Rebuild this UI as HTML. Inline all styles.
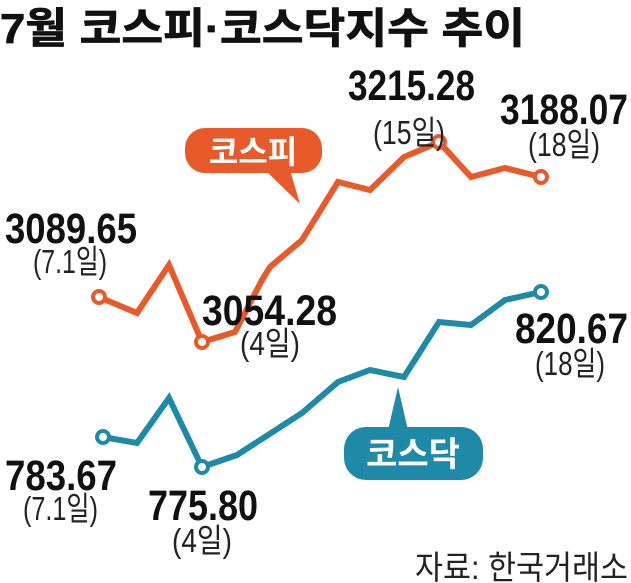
<!DOCTYPE html>
<html><head><meta charset="utf-8"><style>
html,body{margin:0;padding:0;background:#fff;width:631px;height:583px;overflow:hidden}
svg{display:block}
.n{font-family:"Liberation Sans","Noto Sans CJK KR",sans-serif;font-weight:bold;font-size:43px;fill:#111}
.d{font-family:"Liberation Sans","Noto Sans CJK KR",sans-serif;font-size:33px;fill:#222}
</style></head><body>
<svg width="631" height="583" viewBox="0 0 631 583">
<text x="0" y="43" font-family="'Liberation Sans','Noto Sans CJK KR',sans-serif" font-weight="bold" font-size="42" fill="#111" stroke="#111" stroke-width="0.8" textLength="525" lengthAdjust="spacingAndGlyphs">7월 코스피·코스닥지수 추이</text>

<polyline fill="none" stroke="#e85a2a" stroke-width="6" points="99,297 137,313 169,265 202,342 235,332 262,280 270,267 302,240 338,182 370,190 404,157 439,142 471,177 505,168 541,177"/>
<polyline fill="none" stroke="#1f8aa8" stroke-width="6" points="103,437 137,443 169,398 202,467 237,455 302,413 338,382 370,370 404,377 439,322 471,325 505,300 541,292"/>
<g fill="#fff" stroke-width="4">
<circle cx="99" cy="297" r="6" stroke="#e85a2a"/><circle cx="202" cy="342" r="6" stroke="#e85a2a"/>
<circle cx="439" cy="142" r="6" stroke="#e85a2a"/><circle cx="541" cy="177" r="6" stroke="#e85a2a"/>
<circle cx="103" cy="437" r="6" stroke="#1f8aa8"/><circle cx="202" cy="467" r="6" stroke="#1f8aa8"/>
<circle cx="541" cy="292" r="6" stroke="#1f8aa8"/>
</g>

<rect x="185" y="128" width="137" height="45" rx="20" fill="#e85a2a"/>
<polygon points="265,170 290,170 300,204" fill="#e85a2a"/>
<text x="253" y="163" text-anchor="middle" font-family="'Liberation Sans','Noto Sans CJK KR',sans-serif" font-weight="bold" font-size="32" fill="#fff">코스피</text>

<rect x="344" y="427" width="139" height="53" rx="22" fill="#1f8aa8"/>
<polygon points="388,430 408,430 398,387" fill="#1f8aa8"/>
<text x="413" y="466" text-anchor="middle" font-family="'Liberation Sans','Noto Sans CJK KR',sans-serif" font-weight="bold" font-size="34" fill="#fff">코스닥</text>

<text class="n" x="348" y="100" textLength="127" lengthAdjust="spacingAndGlyphs">3215.28</text>
<text class="d" x="373" y="144" textLength="72" lengthAdjust="spacingAndGlyphs">(15일)</text>
<text class="n" x="500" y="124" textLength="128" lengthAdjust="spacingAndGlyphs">3188.07</text>
<text class="d" x="528" y="156" textLength="72" lengthAdjust="spacingAndGlyphs">(18일)</text>
<text class="n" x="5" y="243" textLength="132" lengthAdjust="spacingAndGlyphs">3089.65</text>
<text class="d" x="33" y="273" textLength="74" lengthAdjust="spacingAndGlyphs">(7.1일)</text>
<text class="n" x="202" y="325" textLength="135" lengthAdjust="spacingAndGlyphs">3054.28</text>
<text class="d" x="240" y="355" textLength="60" lengthAdjust="spacingAndGlyphs">(4일)</text>
<text class="n" x="515" y="343" textLength="113" lengthAdjust="spacingAndGlyphs">820.67</text>
<text class="d" x="535" y="375" textLength="70" lengthAdjust="spacingAndGlyphs">(18일)</text>
<text class="n" x="5" y="490" textLength="112" lengthAdjust="spacingAndGlyphs">783.67</text>
<text class="d" x="23" y="520" textLength="75" lengthAdjust="spacingAndGlyphs">(7.1일)</text>
<text class="n" x="148" y="520" textLength="110" lengthAdjust="spacingAndGlyphs">775.80</text>
<text class="d" x="172" y="552" textLength="60" lengthAdjust="spacingAndGlyphs">(4일)</text>
<text class="d" x="415" y="579" textLength="213" lengthAdjust="spacingAndGlyphs">자료: 한국거래소</text>
</svg>
</body></html>
